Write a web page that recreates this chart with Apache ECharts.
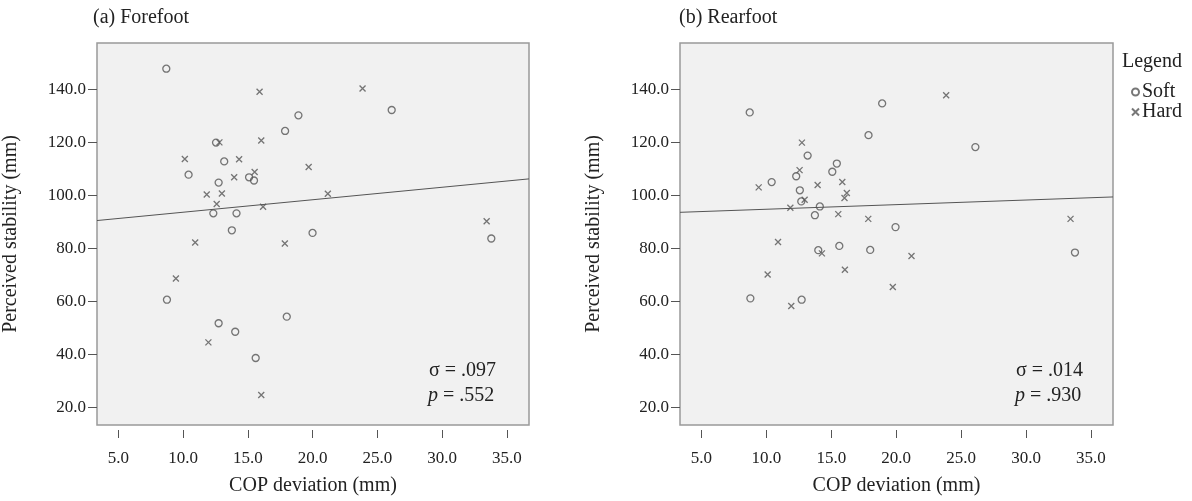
<!DOCTYPE html>
<html>
<head>
<meta charset="utf-8">
<script src="https://cdn.jsdelivr.net/npm/echarts@6/dist/echarts.min.js"></script>
<style>
  html, body { margin: 0; padding: 0; background: #fff; }
  #main { width: 1192px; height: 501px; }
</style>
</head>
<body>
<div id="main"></div>
<script>
// tick values of both panels
var xTicks = [5, 10, 15, 20, 25, 30, 35];
var yTicks = [20, 40, 60, 80, 100, 120, 140];

// (a) Forefoot: [COP deviation, perceived stability]
var foreSoft = [[8.7,147.8],[26.1,132.2],[18.9,130.2],[17.87,124.3],[12.54,119.9],[13.17,112.8],[10.42,107.8],[15.09,106.8],[15.47,105.6],[12.74,104.8],[12.33,93.2],[14.12,93.2],[13.76,86.8],[33.79,83.7],[19.99,85.8],[8.75,60.6],[12.74,51.7],[14.02,48.5],[18.0,54.2],[15.6,38.6]];
var foreHard = [[15.9,139.1],[23.85,140.3],[12.8,120],[16.03,120.7],[10.13,113.7],[14.32,113.6],[19.69,110.7],[15.52,108.8],[13.94,106.8],[11.82,100.3],[12.99,100.7],[21.17,100.6],[12.59,96.7],[16.17,95.7],[33.43,90.2],[10.93,82.2],[17.85,81.8],[9.44,68.6],[11.95,44.5],[16.03,24.6]];

// (b) Rearfoot
var rearSoft = [[8.72,131.3],[18.92,134.7],[17.87,122.7],[26.1,118.2],[13.18,115.0],[15.43,112.0],[15.08,108.9],[12.3,107.2],[10.41,105.0],[12.58,101.9],[12.69,97.7],[14.12,95.8],[13.74,92.5],[19.95,88.0],[14.0,79.3],[15.62,80.9],[18.0,79.4],[33.77,78.4],[8.77,61.1],[12.72,60.6]];
var rearHard = [[23.85,137.8],[12.74,119.9],[12.56,109.5],[9.41,103.0],[13.95,103.9],[15.85,105.0],[16.2,100.9],[16.02,99.0],[12.95,98.3],[11.85,95.3],[15.54,92.9],[17.85,91.1],[33.43,91.1],[10.9,82.4],[14.28,78.1],[21.18,77.1],[10.1,70.1],[16.05,71.9],[19.74,65.4],[11.92,58.2]];

// fit lines [intercept, slope]
var foreFit = [88.9, 0.4715];
var rearFit = [93.0, 0.174];

// stats per panel [sigma, p]
var foreStats = ['.097', '.552'];
var rearStats = ['.014', '.930'];

var xRange = [3.35, 36.7];
var yRange = [13.3, 157.5];

var font = 'Liberation Serif';
var ink = '#555';
var txt = '#222';
var crossPath = 'path://M0,0L10,10M10,0L0,10';

function fitPoints(fit) {
    return xRange.map(function (x) { return [x, fit[0] + fit[1] * x]; });
}

function xAxisFor(idx) {
    return {
        gridIndex: idx, type: 'value', min: xRange[0], max: xRange[1],
        offset: 5,
        name: 'COP deviation (mm)', nameLocation: 'middle', nameGap: 46,
        nameTextStyle: { fontFamily: font, fontSize: 20, color: txt },
        axisLine: { show: false },
        axisTick: { show: true, length: 8, customValues: xTicks, lineStyle: { color: ink } },
        axisLabel: { customValues: xTicks, margin: 20, fontFamily: font, fontSize: 17, color: txt,
            formatter: function (v) { return v.toFixed(1); } },
        splitLine: { show: false }
    };
}

function yAxisFor(idx) {
    return {
        gridIndex: idx, type: 'value', min: yRange[0], max: yRange[1],
        name: 'Perceived stability (mm)', nameLocation: 'middle', nameGap: 76,
        nameTextStyle: { fontFamily: font, fontSize: 20, color: txt },
        axisLine: { show: false },
        axisTick: { show: true, length: 9, customValues: yTicks, lineStyle: { color: ink } },
        axisLabel: { customValues: yTicks, margin: 11, fontFamily: font, fontSize: 17, color: txt,
            formatter: function (v) { return v.toFixed(1); } },
        splitLine: { show: false }
    };
}

function softSeries(idx, data) {
    return {
        name: 'Soft', type: 'scatter', xAxisIndex: idx, yAxisIndex: idx, data: data,
        symbol: 'circle', symbolSize: 7,
        itemStyle: { color: 'transparent', borderColor: ink, borderWidth: 1.3 }
    };
}

function hardSeries(idx, data) {
    return {
        name: 'Hard', type: 'scatter', xAxisIndex: idx, yAxisIndex: idx, data: data,
        symbol: crossPath, symbolSize: 6,
        itemStyle: { color: 'transparent', borderColor: ink, borderWidth: 1.3 }
    };
}

function fitSeries(idx, fit) {
    return {
        type: 'line', xAxisIndex: idx, yAxisIndex: idx, data: fitPoints(fit),
        showSymbol: false, silent: true,
        lineStyle: { color: ink, width: 1 }
    };
}

function statText(x, stats) {
    return [
        { type: 'text', x: x, y: 371, style: { text: 'σ = ' + stats[0], font: '20px "' + font + '"', fill: txt, verticalAlign: 'middle' } },
        { type: 'text', x: x - 1, y: 396, style: { text: '{i|p} = ' + stats[1], font: '20px "' + font + '"', fill: txt, verticalAlign: 'middle',
            rich: { i: { fontStyle: 'italic', fontFamily: font, fontSize: 20 } } } }
    ];
}

var myChart = echarts.init(document.getElementById('main'));

var option = {
    animation: false,
    backgroundColor: '#fff',
    grid: [
        { left: 94, top: 43, width: 435, height: 388, show: true, backgroundColor: '#f1f1f1', borderColor: '#999', borderWidth: 1.5 },
        { left: 680, top: 43, width: 433, height: 388, show: true, backgroundColor: '#f1f1f1', borderColor: '#999', borderWidth: 1.5 }
    ],
    xAxis: [xAxisFor(0), xAxisFor(1)],
    yAxis: [yAxisFor(0), yAxisFor(1)],
    legend: {
        data: [{ name: 'Soft', icon: 'circle' }, { name: 'Hard', icon: crossPath }],
        orient: 'vertical', left: 1126, top: 77,
        itemWidth: 7, itemHeight: 7, itemGap: 0,
        textStyle: { fontFamily: font, fontSize: 20, color: txt, padding: [0, 0, 0, -2] }
    },
    graphic: [
        { type: 'text', x: 93, y: 18, style: { text: '(a) Forefoot', font: '20px "' + font + '"', fill: txt, verticalAlign: 'middle' } },
        { type: 'text', x: 679, y: 18, style: { text: '(b) Rearfoot', font: '20px "' + font + '"', fill: txt, verticalAlign: 'middle' } },
        { type: 'text', x: 1122, y: 62, style: { text: 'Legend', font: '20px "' + font + '"', fill: txt, verticalAlign: 'middle' } }
    ].concat(statText(429, foreStats), statText(1016, rearStats)),
    series: [
        fitSeries(0, foreFit), softSeries(0, foreSoft), hardSeries(0, foreHard),
        fitSeries(1, rearFit), softSeries(1, rearSoft), hardSeries(1, rearHard)
    ]
};

myChart.setOption(option);
</script>
</body>
</html>
